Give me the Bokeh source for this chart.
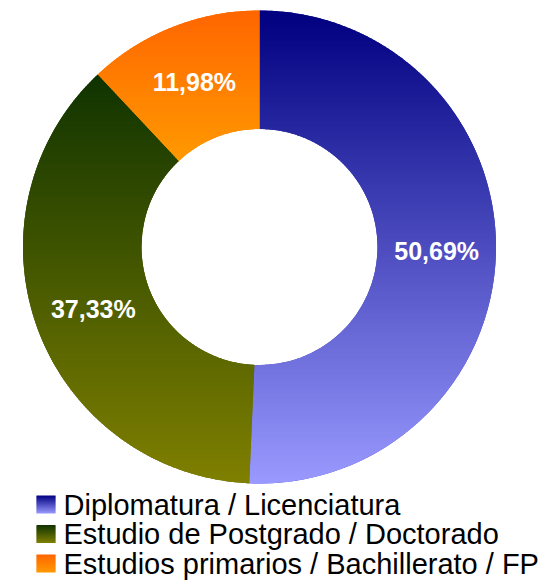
import numpy as np
from bokeh.plotting import figure
from bokeh.models import Range1d
from bokeh.embed import file_html
from bokeh.resources import INLINE
from bokeh.core.properties import value

# ---------------- data ----------------
categories = ["Diplomatura / Licenciatura",
              "Estudio de Postgrado / Doctorado",
              "Estudios primarios / Bachillerato / FP"]
shares = [50.69, 37.33, 11.98]
labels = ["50,69%", "37,33%", "11,98%"]
top_colors = ["#000080", "#0f3300", "#ff6600"]
bottom_colors = ["#9999ff", "#808000", "#ff9900"]

# ---------------- layout ----------------
W, H = 547, 581
def sy(screen_y):          # screen y -> data y (y up)
    return H - screen_y

cx, cy = 259.0, sy(246.5)
R_out, R_in = 236.5, 118.0
FONT = "Liberation Sans"

def hex2rgb(h):
    h = h.lstrip("#")
    return np.array([int(h[i:i + 2], 16) for i in (0, 2, 4)], dtype=float)

def mix(c0, c1, t):
    a, b = hex2rgb(c0), hex2rgb(c1)
    c = np.clip(np.round(a + (b - a) * t), 0, 255).astype(int)
    return "#%02x%02x%02x" % tuple(c)

def clip_half(poly, yv, keep_above):
    out = []
    n = len(poly)
    for i in range(n):
        P = poly[i]
        Q = poly[(i + 1) % n]
        inP = P[1] >= yv if keep_above else P[1] <= yv
        inQ = Q[1] >= yv if keep_above else Q[1] <= yv
        if inP:
            out.append(P)
        if inP != inQ:
            t = (yv - P[1]) / (Q[1] - P[1])
            out.append((P[0] + t * (Q[0] - P[0]), yv))
    return out

p = figure(width=W, height=H, output_backend="svg", toolbar_location=None,
           x_range=Range1d(0, W), y_range=Range1d(0, H),
           x_axis_location=None, y_axis_location=None, min_border=0)
p.grid.visible = False
p.outline_line_color = None
p.background_fill_color = "white"
p.border_fill_color = "white"

shares_arr = np.array(shares, dtype=float)
frac = shares_arr / shares_arr.sum()
cum = np.concatenate([[0.0], np.cumsum(frac)])
a_start = np.pi / 2 - 2 * np.pi * cum[:-1]   # clockwise from top
a_end = np.pi / 2 - 2 * np.pi * cum[1:]

# base wedges (flat mid colour) straight from the data
mid_colors = [mix(t, b, 0.5) for t, b in zip(top_colors, bottom_colors)]
p.annular_wedge(x=cx, y=cy, inner_radius=R_in, outer_radius=R_out,
                start_angle=a_end, end_angle=a_start, direction="anticlock",
                fill_color=mid_colors, line_color=None)

# vertical gradient shading of each slice, in thin horizontal bands
xs, ys, cols = [], [], []
for i in range(len(shares)):
    n = max(8, int(abs(a_start[i] - a_end[i]) / (2 * np.pi) * 720))
    th = np.linspace(a_start[i], a_end[i], n)
    outer = [(cx + R_out * np.cos(t), cy + R_out * np.sin(t)) for t in th]
    inner = [(cx + R_in * np.cos(t), cy + R_in * np.sin(t)) for t in th[::-1]]
    poly = outer + inner
    yv = np.array([q[1] for q in poly])
    ymin, ymax = yv.min(), yv.max()
    step = 2.0
    nb = int(np.ceil((ymax - ymin) / step))
    for k in range(nb):
        y_hi = ymax - k * step
        y_lo = max(ymin, y_hi - step - 1.0)
        piece = clip_half(poly, y_lo, True)
        if len(piece) < 3:
            continue
        piece = clip_half(piece, y_hi, False)
        if len(piece) < 3:
            continue
        t = (ymax - (y_hi - step / 2)) / (ymax - ymin)
        xs.append([q[0] for q in piece])
        ys.append([q[1] for q in piece])
        cols.append(mix(top_colors[i], bottom_colors[i], min(max(t, 0), 1)))
p.patches(xs, ys, fill_color=cols, line_color=None)

# percentage labels
mid_ang = (a_start + a_end) / 2
r_lab = (R_in + R_out) / 2
p.text(x=cx + r_lab * np.cos(mid_ang), y=cy + r_lab * np.sin(mid_ang), text=labels,
       text_align="center", text_baseline="middle", text_color="white",
       text_font=value(FONT), text_font_style="bold", text_font_size="25px")

# legend
lx0, lx1 = 36, 55
row_top0, row_h, sq = 495, 29.5, 18
for i, cat in enumerate(categories):
    top = row_top0 + i * row_h
    nstr = 18
    edges = np.linspace(top, top + sq, nstr + 1)
    qc = [mix(top_colors[i], bottom_colors[i], (j + 0.5) / nstr) for j in range(nstr)]
    p.quad(left=lx0, right=lx1, top=[sy(e) for e in edges[:-1]],
           bottom=[sy(e) + (-0.6 if j < nstr - 1 else 0) for j, e in enumerate(edges[1:])],
           fill_color=qc, line_color=None)
p.text(x=[63] * len(categories),
       y=[sy(row_top0 + sq / 2 + i * row_h) for i in range(len(categories))],
       text=categories, text_align="left", text_baseline="middle",
       text_color="black", text_font=value(FONT), text_font_size="29px")

open("out.html", "w").write(file_html(p, INLINE))
